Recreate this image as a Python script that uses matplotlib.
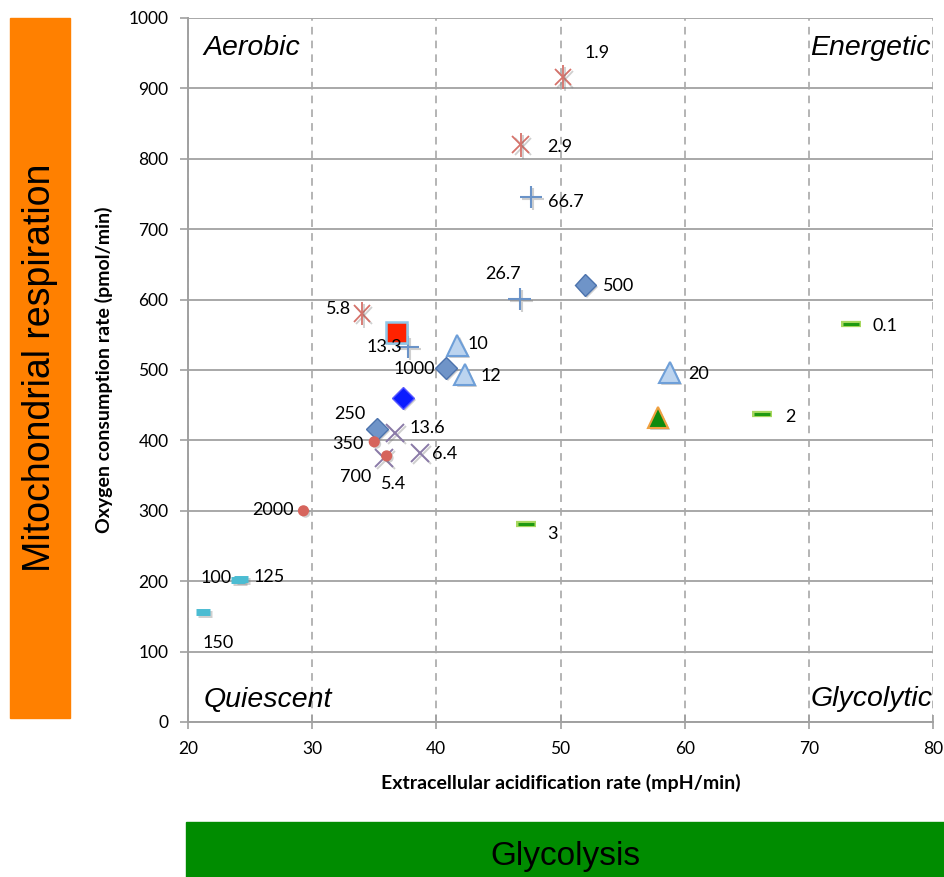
import matplotlib
matplotlib.use('Agg')
import matplotlib.pyplot as plt
import matplotlib.patheffects as pe
from matplotlib.patches import Rectangle

# ECAR (x) / OCR (y) values, grouped by marker series
star_x = [50.2, 46.8, 34.0]
star_y = [916, 820, 580]
star_lab = ['1.9', '2.9', '5.8']

plus_x = [47.6, 46.7, 37.7]
plus_y = [746, 601, 533]
plus_lab = ['66.7', '26.7', '13.3']

dia_x = [52.0, 40.8, 35.2]
dia_y = [621, 503, 416]
dia_lab = ['500', '1000', '250']

tri_x = [41.7, 42.3, 58.8]
tri_y = [535, 494, 497]
tri_lab = ['10', '12', '20']

cross_x = [36.7, 35.8, 38.7]
cross_y = [410, 375, 382]
cross_lab = ['13.6', '5.4', '6.4']

dot_x = [35.0, 36.0, 29.3]
dot_y = [398, 378, 300]
dot_lab = ['350', '700', '2000']

cyan_x = [24.0, 24.3, 21.2]
cyan_y = [202, 203, 156]
cyan_lab = ['100', '125', '150']

green_x = [73.4, 66.2, 47.2]
green_y = [565, 437, 281]
green_lab = ['0.1', '2', '3']

# unlabelled reference points
square_pt = (36.8, 553)
bluedia_pt = (37.3, 460)
greentri_pt = (57.85, 433)

quadrants = ['Aerobic', 'Energetic', 'Quiescent', 'Glycolytic']

# label offsets in pixels (dx, dy, ha)
offs = {
    '1.9': (34, 24, 'center'), '2.9': (26, -2, 'left'), '5.8': (-11, 5, 'right'),
    '66.7': (17, -5, 'left'), '26.7': (-17, 25, 'center'), '13.3': (-6, 0, 'right'),
    '500': (18, -1, 'left'), '1000': (-11, -1, 'right'), '250': (-11, 15, 'right'),
    '10': (10, 1, 'left'), '12': (16, -2, 'left'), '20': (18, -2, 'left'),
    '13.6': (14, 5, 'left'), '5.4': (-3, -26, 'left'), '6.4': (12, -1, 'left'),
    '350': (-11, -2, 'right'), '700': (-15, -21, 'right'), '2000': (-10, 1, 'right'),
    '100': (-6, 2, 'right'), '125': (12, 2, 'left'), '150': (0, -31, 'left'),
    '0.1': (21, -2, 'left'), '2': (24, -3, 'left'), '3': (21, -10, 'left'),
}

lab_font = 'Lato'
shadow_f = [pe.SimplePatchShadow(offset=(1.5, -1.5), shadow_rgbFace='#777777', alpha=0.35), pe.Normal()]
shadow_l = [pe.SimpleLineShadow(offset=(1.5, -1.5), shadow_color='#777777', alpha=0.35), pe.Normal()]

fig = plt.figure(figsize=(9.44, 8.77), dpi=100)
ax = fig.add_axes([188 / 944, 1 - 722 / 877, 745 / 944, 704 / 877])

ax.set_xlim(20, 80)
ax.set_ylim(0, 1000)
ax.set_xticks(range(20, 81, 10))
ax.set_yticks(range(0, 1001, 100))
ax.grid(axis='y', color='#a8a8a8', lw=1.4, ls='-')
ax.grid(axis='x', color='#a0a0a0', lw=1.1, ls=(0, (5, 4)))
ax.set_axisbelow(True)
for s in ['top', 'right']:
    ax.spines[s].set_visible(False)
for s in ['left', 'bottom']:
    ax.spines[s].set_color('#a0a0a0')
    ax.spines[s].set_linewidth(1.4)
ax.tick_params(axis='y', direction='out', length=6, width=1.2, color='#a0a0a0', labelsize=12.5, pad=8)
ax.tick_params(axis='x', direction='inout', length=10, width=1.2, color='#a0a0a0', labelsize=12.5, pad=9)
for t in ax.get_xticklabels() + ax.get_yticklabels():
    t.set_fontfamily(lab_font)

ax.set_xlabel('Extracellular acidification rate (mpH/min)', fontfamily=lab_font, fontweight='bold',
              fontsize=14, labelpad=12)
ax.set_ylabel('Oxygen consumption rate (pmol/min)', fontfamily=lab_font, fontweight='bold',
              fontsize=14, labelpad=11)

# asterisks: x with a vertical bar
ax.plot(star_x, star_y, ls='none', marker='x', ms=12, mew=1.3, color='#d6726a', path_effects=shadow_l)
ax.plot(star_x, star_y, ls='none', marker='|', ms=17, mew=1.3, color='#d6726a', path_effects=shadow_l)
ax.plot(plus_x, plus_y, ls='none', marker='+', ms=16, mew=1.5, color='#6a93c8', path_effects=shadow_l)
ax.plot(dia_x, dia_y, ls='none', marker='D', ms=11, mfc='#6f94c8', mec='#4c73ad', mew=1.0, path_effects=shadow_f)
ax.plot(*bluedia_pt, ls='none', marker='D', ms=11, mfc='#0b1cff', mec='#5a5aff', mew=1.0, path_effects=shadow_f)
ax.plot(*square_pt, ls='none', marker='s', ms=15, mfc='#ff2200', mec='#8fc7e8', mew=1.8, path_effects=shadow_f)
ax.plot(tri_x, tri_y, ls='none', marker='^', ms=15, mfc='#bcd4ef', mec='#6e9fd8', mew=1.5, path_effects=shadow_f)
ax.plot(*greentri_pt, ls='none', marker='^', ms=15, mfc='#0e8a0e', mec='#f0a040', mew=1.5, path_effects=shadow_f)
ax.plot(cross_x, cross_y, ls='none', marker='x', ms=13, mew=1.4, color='#8a7aa8', path_effects=shadow_l)
ax.plot(dot_x, dot_y, ls='none', marker='o', ms=7, mfc='#d6645c', mec='#d6645c', path_effects=shadow_f)
ax.plot(cyan_x, cyan_y, ls='none', marker='_', ms=10, mew=5, color='#4bbcd2', path_effects=shadow_l)
ax.plot(green_x, green_y, ls='none', marker='_', ms=14, mew=4.5, color='#a8d860')
ax.plot(green_x, green_y, ls='none', marker='_', ms=12, mew=2.2, color='#1e9a10')

for xs, ys, labs in [(star_x, star_y, star_lab), (plus_x, plus_y, plus_lab), (dia_x, dia_y, dia_lab),
                     (tri_x, tri_y, tri_lab), (cross_x, cross_y, cross_lab), (dot_x, dot_y, dot_lab),
                     (cyan_x, cyan_y, cyan_lab), (green_x, green_y, green_lab)]:
    for x, y, lab in zip(xs, ys, labs):
        dx, dy, ha = offs[lab]
        ax.annotate(lab, (x, y), xytext=(dx, dy), textcoords='offset pixels', ha=ha, va='center',
                    fontsize=13, fontfamily=lab_font, color='black')

# quadrant names
qfont = dict(fontsize=20.5, fontstyle='italic', fontfamily='Liberation Sans')
ax.text(0.021, 0.958, quadrants[0], transform=ax.transAxes, ha='left', va='center', **qfont)
ax.text(0.997, 0.958, quadrants[1], transform=ax.transAxes, ha='right', va='center', **qfont)
ax.text(0.021, 0.031, quadrants[2], transform=ax.transAxes, ha='left', va='center', **qfont)
ax.text(0.999, 0.033, quadrants[3], transform=ax.transAxes, ha='right', va='center', **qfont)

# side bars
fig.patches.append(Rectangle((10 / 944, 1 - 718 / 877), 60 / 944, 700 / 877, transform=fig.transFigure,
                             color='#ff8000', zorder=0))
fig.text(40 / 944, 1 - 368 / 877, 'Mitochondrial respiration', rotation=90, ha='center', va='center',
         fontsize=27, fontfamily='Liberation Sans')
fig.patches.append(Rectangle((186 / 944, 0), 758 / 944, 55 / 877, transform=fig.transFigure,
                             color='#008c00', zorder=0))
fig.text(565 / 944, 1 - 856 / 877, 'Glycolysis', ha='center', va='center',
         fontsize=24, fontfamily='Liberation Sans')

plt.savefig('out.png', dpi=100)
